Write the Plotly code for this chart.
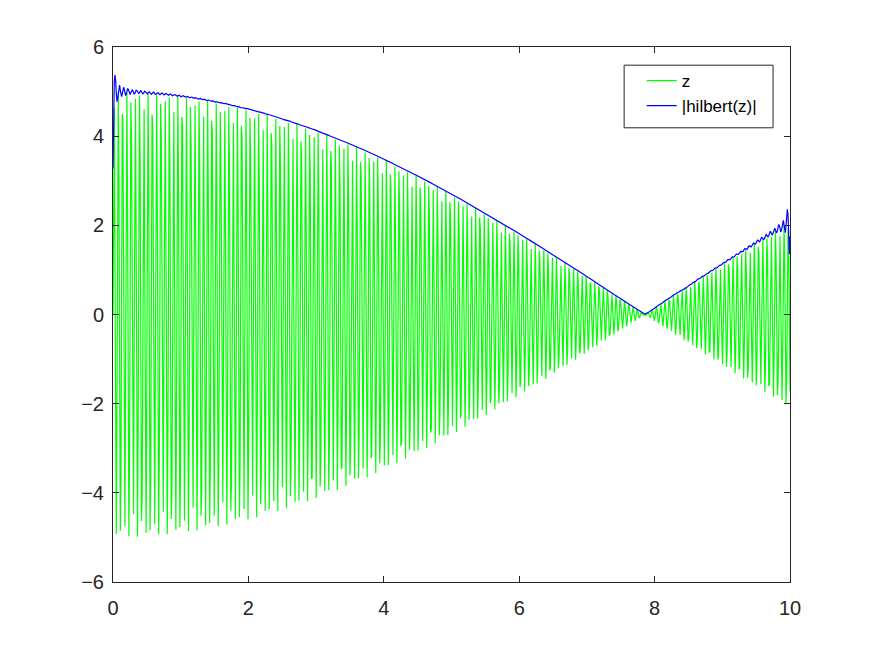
import numpy as np
import plotly.graph_objects as go

# Signal definition (Octave hilbert demo): z = 5*cos(0.2*t).*sin(100*t), t = linspace(0,10,1024)
n_samples = 1024
t_start, t_end = 0.0, 10.0
amplitude = 5.0
envelope_freq = 0.2
carrier_freq = 100.0

x_ticks = [0, 2, 4, 6, 8, 10]
y_ticks = [-6, -4, -2, 0, 2, 4, 6]
legend_names = ["z", "|hilbert(z)|"]

t = np.linspace(t_start, t_end, n_samples)
z = amplitude * np.cos(envelope_freq * t) * np.sin(carrier_freq * t)

# analytic signal via FFT (same as Octave hilbert)
Z = np.fft.fft(z)
h = np.zeros(n_samples)
h[0] = 1
h[n_samples // 2] = 1
h[1:n_samples // 2] = 2
env = np.abs(np.fft.ifft(Z * h))

fig = go.Figure()
fig.add_trace(go.Scatter(x=t, y=z, mode="lines", name=legend_names[0],
                         line=dict(color="#00ff00", width=1.2)))
fig.add_trace(go.Scatter(x=t, y=env, mode="lines", name=legend_names[1],
                         line=dict(color="#0000ff", width=1.2)))

tick_font = dict(family="Liberation Sans, Arial, sans-serif", size=20, color="#262626")
axis_common = dict(showgrid=False, zeroline=False, showline=True, linecolor="#262626",
                   linewidth=1, mirror="ticks", ticks="inside", ticklen=6,
                   tickcolor="#262626", tickfont=tick_font)
fig.update_layout(
    width=864, height=646,
    margin=dict(l=105, r=82, t=39, b=72),
    paper_bgcolor="white", plot_bgcolor="white",
    font=tick_font,
    xaxis=dict(range=[0, 10], tickvals=x_ticks, ticklabelstandoff=8, **axis_common),
    yaxis=dict(range=[-6, 6], tickvals=y_ticks, ticklabelstandoff=4, **axis_common),
    legend=dict(x=0.781, y=0.970, xanchor="left", yanchor="top",
                borderwidth=0, bgcolor="rgba(0,0,0,0)", tracegroupgap=0,
                font=dict(family="Liberation Sans, Arial, sans-serif", size=17, color="black")),
    shapes=[dict(type="rect", xref="paper", yref="paper",
                 x0=0.755, x1=0.975, y0=0.849, y1=0.966,
                 line=dict(color="#262626", width=1), fillcolor="white", layer="above")],
    showlegend=True,
)
fig.write_html("out.html")
